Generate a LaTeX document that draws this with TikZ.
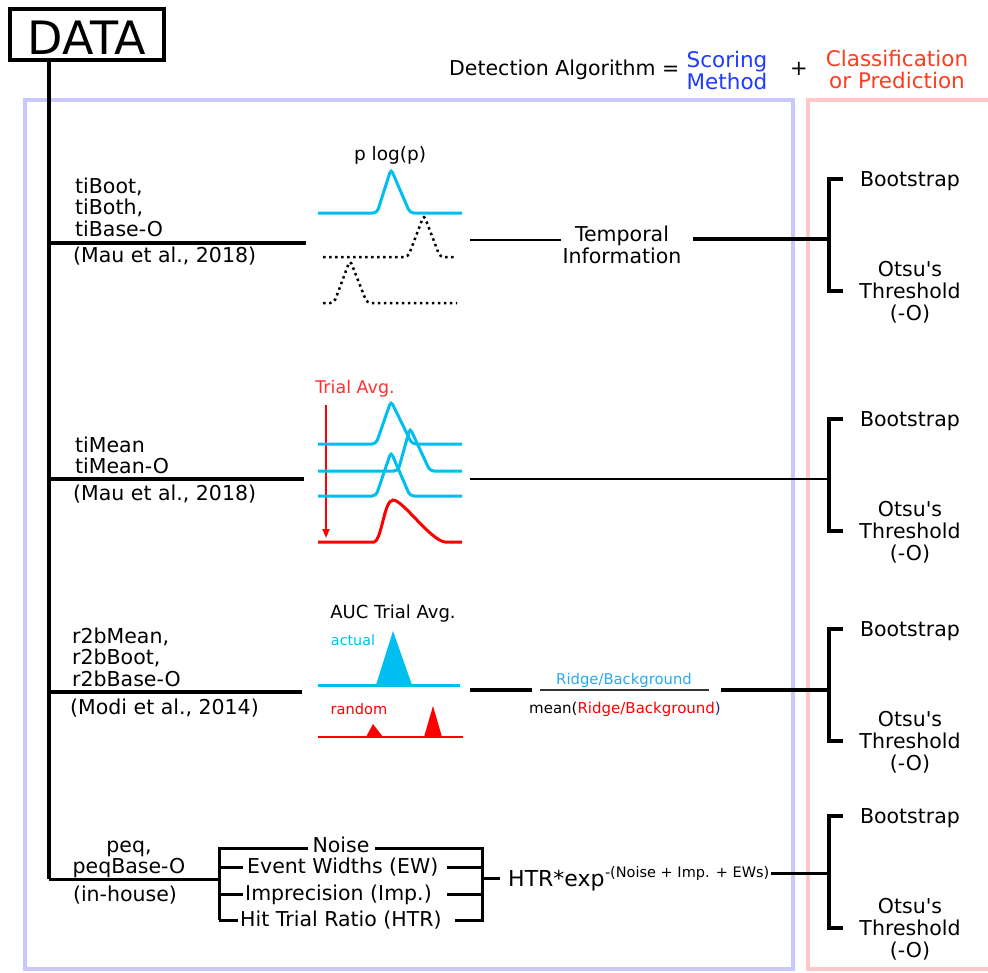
\documentclass[tikz,border=0pt]{standalone}
\usepackage{fontspec}
\setmainfont{DejaVu Sans}
\usetikzlibrary{arrows.meta}
\definecolor{cyanc}{RGB}{0,190,240}
\definecolor{boxblue}{RGB}{200,200,255}
\definecolor{boxred}{RGB}{255,200,200}
\definecolor{scoreblue}{RGB}{30,60,255}
\definecolor{classred}{RGB}{255,60,30}
\definecolor{navyc}{RGB}{40,40,140}
\definecolor{ridgeblue}{RGB}{40,170,240}
\definecolor{redtxt}{RGB}{255,50,50}
\newcommand{\fs}[1]{\fontsize{#1}{#1}\selectfont}
\newcommand{\clsgroup}[3]{%
  \coordinate (bt#1) at (829,#2);
  \coordinate (bb#1) at (829,#2+112);
  \coordinate (bm#1) at (829,#3);
  \draw[brk] ([xshift=14pt]bt#1) -- (bt#1) -- (bb#1) -- ([xshift=14pt]bb#1);
  \node[txt,anchor=base] (boot#1) at (910,#2+7) {Bootstrap};
  \node[txt,anchor=base] (otsu#1) at (910,#2+97) {Otsu\textquotesingle s};
  \node[txt,anchor=base] (thr#1) at (910,#2+119) {Threshold};
  \node[txt,anchor=base] (oo#1) at (910,#2+141) {(-O)};
}
\begin{document}
\begin{tikzpicture}[x=1pt,y=-1pt,
  txt/.style={inner sep=0pt, font=\fs{20.5}},
  thk/.style={line width=3.5pt},
  thn/.style={line width=2.2pt},
  brk/.style={line width=3.5pt},
  cyanln/.style={cyanc, line width=3pt, rounded corners=4pt},
  dotln/.style={black, line width=2.5pt, dash pattern=on 2.5pt off 3.5pt, rounded corners=4pt},
  redln/.style={red, line width=3pt}]
\useasboundingbox (0,0) rectangle (988,972);
\fill[white] (0,0) rectangle (988,972);
% frames
\draw[boxblue, line width=4pt] (25,100) rectangle (793,969);
\draw[boxred, line width=4pt] (808,100) rectangle (995,969);
% DATA
\node[draw, line width=4pt, minimum width=154pt, minimum height=51pt, inner sep=0pt,
      text height=40pt, text depth=0pt, font=\fs{46}] (data) at (87,34.5) {DATA};
% header
\node[txt, anchor=base west] (det) at (449,75) {Detection Algorithm =};
\node[txt, anchor=base, text=scoreblue, font=\fs{21.5}] (sc1) at (727,67) {Scoring};
\node[txt, anchor=base, text=scoreblue, font=\fs{21.5}] (sc2) at (727,89) {Method};
\node[txt, font=\fs{21}] (plus) at (799,69) {+};
\node[txt, anchor=base, text=classred, font=\fs{21.5}] (cl1) at (897,66) {Classification};
\node[txt, anchor=base, text=classred, font=\fs{21.5}] (cl2) at (897,88) {or Prediction};
% trunk
\coordinate (j1) at (49,243);
\coordinate (j2) at (49,479);
\coordinate (j3) at (49,692);
\coordinate (j4) at (49,879);
\draw[thk] (data.south -| j1) -- (j4);

% ---------- Row 1
\coordinate (a1) at (306,243);
\draw[thk] (j1) -- (a1);
\node[txt, anchor=base west] (r1l1) at (75,193) {tiBoot,};
\node[txt, anchor=base west] (r1l2) at (75,214) {tiBoth,};
\node[txt, anchor=base west] (r1l3) at (75,236) {tiBase-O};
\node[txt, anchor=base west] (r1l4) at (73,262) {(Mau et al., 2018)};
\node[txt, anchor=base, font=\fs{18.5}] (plog) at (390,160) {p log(p)};
\draw[cyanln] (318,213) -- (377,213) -- (391,169) -- (410,213) -- (462,213);
\draw[dotln] (323,257) -- (408,257) -- (424,215) -- (440,257) -- (457,257);
\draw[dotln] (323,303) -- (334,303) -- (350,260) -- (367,303) -- (457,303);
\coordinate (t1a) at (470,240);
\coordinate (t1b) at (561,240);
\draw[thn] (t1a) -- (t1b);
\node[txt, anchor=base] (temp1) at (622,241) {Temporal};
\node[txt, anchor=base] (temp2) at (622,263) {Information};
\coordinate (t1c) at (693,239);
\clsgroup{1}{179}{239}
\draw[line width=4pt] (t1c) -- (bm1);

% ---------- Row 2
\coordinate (a2) at (304,479);
\draw[thk] (j2) -- (a2);
\node[txt, anchor=base west] (r2l1) at (75,452) {tiMean};
\node[txt, anchor=base west] (r2l2) at (75,473) {tiMean-O};
\node[txt, anchor=base west] (r2l3) at (73,500) {(Mau et al., 2018)};
\node[txt, anchor=base, text=redtxt, font=\fs{17.5}] (tavg) at (355,393) {Trial Avg.};
\coordinate (ar1) at (326,405);
\coordinate (ar2) at (326,538);
\draw[red, line width=1.5pt, -{Triangle[length=9pt,width=7pt]}] (ar1) -- (ar2);
\draw[cyanln] (318,444) -- (376,444) -- (391,401) -- (412,444) -- (462,444);
\draw[cyanln] (318,471) -- (398,471) -- (410,428) -- (430,471) -- (462,471);
\draw[cyanln] (318,496) -- (376,496) -- (391,452) -- (410,496) -- (462,496);
\draw[redln] (318,542) -- (374,542) .. controls (382,540) and (384,500) .. (393,500)
   .. controls (403,500) and (430,540) .. (445,542) -- (462,542);
\coordinate (t2a) at (470,479);
\clsgroup{2}{419}{479}
\draw[thn] (t2a) -- (bm2);

% ---------- Row 3
\coordinate (a3) at (302,692);
\draw[thk] (j3) -- (a3);
\node[txt, anchor=base west] (r3l1) at (72,643) {r2bMean,};
\node[txt, anchor=base west] (r3l2) at (72,664) {r2bBoot,};
\node[txt, anchor=base west] (r3l3) at (72,686) {r2bBase-O};
\node[txt, anchor=base west] (r3l4) at (70,714) {(Modi et al., 2014)};
\node[txt, anchor=base, font=\fs{18}] (auc) at (393,618.5) {AUC Trial Avg.};
\node[txt, anchor=base, text=cyanc, font=\fs{14.3}] (actual) at (353,645) {actual};
\fill[cyanc] (376,685) -- (393,631) -- (412,685) -- cycle;
\draw[cyanc, line width=3pt] (318,685) -- (460,685);
\node[txt, anchor=base, text=red, font=\fs{14.6}] (random) at (359,714) {random};
\draw[red, line width=2pt] (318,737) -- (463,737);
\fill[red] (366,737) -- (373,724) -- (383,737) -- cycle;
\fill[red] (424,737) -- (433,706) -- (442,737) -- cycle;
\coordinate (t3a) at (470,690);
\coordinate (t3b) at (532,690);
\draw[thk] (t3a) -- (t3b);
\coordinate (f3a) at (540,690);
\coordinate (f3b) at (709,690);
\draw[line width=1.5pt, black!80] (f3a) -- (f3b);
\node[txt, anchor=base, text=ridgeblue, font=\fs{14.8}] (ridge) at (624,684) {Ridge/Background};
\node[txt, anchor=base, font=\fs{15}] (meanr) at (625,713)
   {mean(\textcolor{red}{Ridge/Background}\textcolor{navyc}{)}};
\coordinate (t3c) at (721,690);
\clsgroup{3}{629}{690}
\draw[thk] (t3c) -- (bm3);

% ---------- Row 4
\coordinate (lb) at (219,879);
\draw[line width=3pt] (j4) -- (lb);
\node[txt, anchor=base] (r4l1) at (129,852) {peq,};
\node[txt, anchor=base] (r4l2) at (129,873) {peqBase-O};
\node[txt, anchor=base] (r4l3) at (125,901) {(in-house)};
\coordinate (lbt) at (219,848);
\coordinate (lbb) at (219,920);
\coordinate (rbt) at (482,848);
\coordinate (rbb) at (482,920);
\node[txt, anchor=base] (noise) at (341,852) {Noise};
\node[txt, anchor=base west] (ew) at (247,873) {Event Widths (EW)};
\node[txt, anchor=base west] (imp) at (245,900) {Imprecision (Imp.)};
\node[txt, anchor=base west] (htrr) at (240,926) {Hit Trial Ratio (HTR)};
\draw[line width=3pt] (lbb) -- (lbt) -- (308,848);
\draw[line width=3pt] (375,848) -- (rbt) -- (rbb) -- (455,920);
\draw[line width=3pt] (219,867) -- (243,867);
\draw[line width=3pt] (447,867) -- (482,867);
\draw[line width=3pt] (219,894) -- (243,894);
\draw[line width=3pt] (447,894) -- (482,894);
\draw[line width=3pt] (219,920) -- (238,920);
\coordinate (rtk) at (500,878);
\draw[line width=3pt] (482,878) -- (rtk);
\node[txt, anchor=base west, font=\fs{22}] (htrx) at (508,886) {HTR*exp};
\node[txt, anchor=base west, font=\fs{14.5}] (htrsup) at ([yshift=9pt]htrx.base east) {-(Noise + Imp. + EWs)};
\clsgroup{4}{816}{873}
\draw[line width=3pt] ([xshift=1pt,yshift=4pt]htrsup.base east) -- (bm4);
\end{tikzpicture}
\end{document}
